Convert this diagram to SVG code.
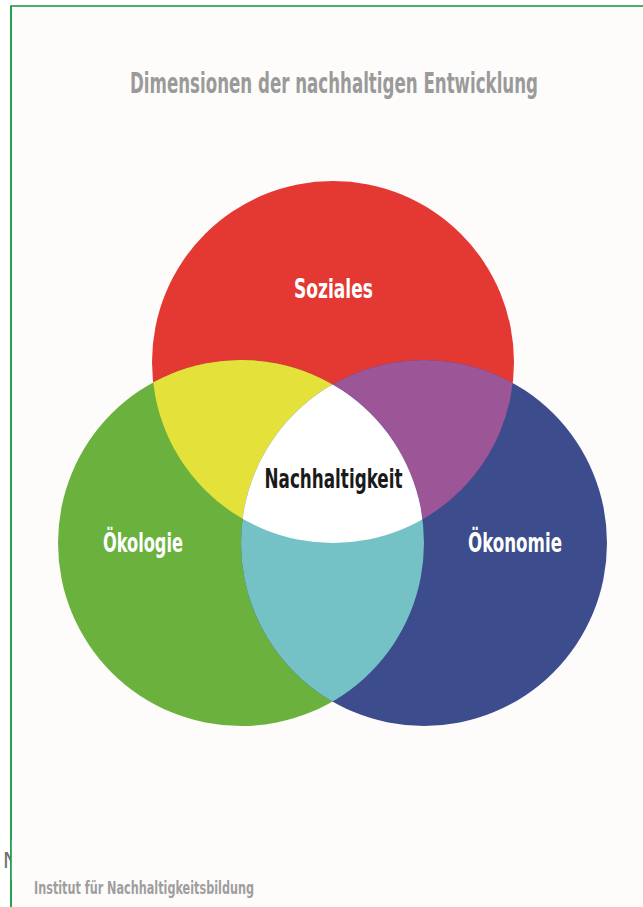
<svg xmlns="http://www.w3.org/2000/svg" width="643" height="907" viewBox="0 0 643 907">
  <defs>
    <style>
      .cond { font-family: "Liberation Sans Narrow", "DejaVu Sans Condensed", "Roboto", "Liberation Sans", sans-serif; font-stretch: condensed; }
      .title { fill: #9a9a9a; font-size: 29px; font-weight: 600; }
      .lbl { fill: #ffffff; font-size: 27px; font-weight: bold; }
      .center { fill: #1a1a1a; font-size: 27px; font-weight: bold; }
      .foot { fill: #9e9e9e; font-size: 18px; font-weight: 600; }
    </style>
    <clipPath id="cR"><circle cx="333" cy="362" r="181"/></clipPath>
    <clipPath id="cG"><circle cx="241" cy="543" r="183"/></clipPath>
    <clipPath id="cB"><circle cx="424" cy="543" r="183"/></clipPath>
  </defs>

  <rect x="0" y="0" width="643" height="907" fill="#ffffff"/>
  <rect x="11" y="6" width="640" height="910" fill="#fdfcfb" stroke="#1f9a4a" stroke-width="1.6"/>

  <text x="334" y="93" text-anchor="middle" class="cond title" textLength="408" lengthAdjust="spacingAndGlyphs">Dimensionen der nachhaltigen Entwicklung</text>

  <g id="circles">
    <circle cx="333" cy="362" r="181" fill="#e43832"/>
    <circle cx="241" cy="543" r="183" fill="#6ab13d"/>
    <circle cx="424" cy="543" r="183" fill="#3c4c8d"/>
    <g clip-path="url(#cR)"><circle cx="241" cy="543" r="183" fill="#e4e23a"/></g>
    <g clip-path="url(#cR)"><circle cx="424" cy="543" r="183" fill="#9c5597"/></g>
    <g clip-path="url(#cG)"><circle cx="424" cy="543" r="183" fill="#74c1c6"/></g>
    <g clip-path="url(#cR)"><g clip-path="url(#cG)"><circle cx="424" cy="543" r="183" fill="#ffffff"/></g></g>
  </g>

  <g id="soziales">
    <text x="333.5" y="298" text-anchor="middle" class="cond lbl" textLength="79" lengthAdjust="spacingAndGlyphs">Soziales</text>
  </g>
  <g id="oekologie">
    <text x="143" y="552" text-anchor="middle" class="cond lbl" textLength="80" lengthAdjust="spacingAndGlyphs">Ökologie</text>
  </g>
  <g id="oekonomie">
    <text x="515" y="552" text-anchor="middle" class="cond lbl" textLength="94" lengthAdjust="spacingAndGlyphs">Ökonomie</text>
  </g>
  <g id="nachhaltigkeit">
    <text x="333.5" y="488" text-anchor="middle" class="cond center" textLength="138" lengthAdjust="spacingAndGlyphs">Nachhaltigkeit</text>
  </g>

  <text x="3" y="868" class="cond" font-size="22" fill="#6f6f6f">N</text>
  <rect x="11" y="840" width="10" height="40" fill="#fdfcfb"/>
  <line x1="11" y1="6" x2="11" y2="907" stroke="#1f9a4a" stroke-width="1.6"/>

  <text x="34" y="894" class="cond foot" textLength="220" lengthAdjust="spacingAndGlyphs">Institut für Nachhaltigkeitsbildung</text>
</svg>
